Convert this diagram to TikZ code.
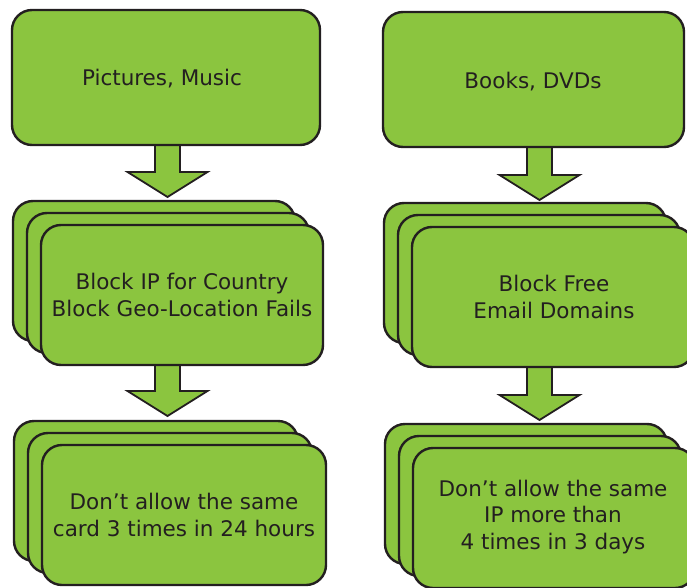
\documentclass[tikz,border=0pt]{standalone}
\usepackage{fontspec}
\setmainfont{DejaVu Sans}
\usetikzlibrary{calc}
\definecolor{boxgreen}{RGB}{139,197,63}
\definecolor{edgedark}{RGB}{35,31,32}
\definecolor{txt}{RGB}{35,31,32}
\tikzset{
  gbox/.style={draw=edgedark, line width=2.4pt, fill=boxgreen, rounded corners=20pt,
    text=txt, align=center, inner sep=0pt, font=\fontsize{21.5}{27.5}\selectfont},
  fatarrow/.style={draw=edgedark, line width=1.8pt, fill=boxgreen, line join=miter},
  btext/.style={text=txt, align=center, inner sep=0pt, font=\fontsize{21.5}{27}\selectfont},
}
\newcommand\downarrowat[3]{% x, ytop, ybottom (picture units)
  \draw[fatarrow] (#1-12.5,#2) -- (#1-12.5,#3-25) -- (#1-40,#3-25) -- (#1,#3)
    -- (#1+40,#3-25) -- (#1+12.5,#3-25) -- (#1+12.5,#2);
}
\begin{document}
\begin{tikzpicture}[x=1pt,y=-1pt]
\useasboundingbox (0,0) rectangle (687,588);
\clip (0,0) rectangle (687,588);
% arrows (drawn first, boxes above)
\downarrowat{167.5}{143}{197}
\downarrowat{167.5}{363}{416}
\downarrowat{539.5}{145}{200}
\downarrowat{539.5}{365}{420}
% left column
\node[gbox, minimum width=308, minimum height=135] (pm) at (166,77.5) {};
\node[btext] (pmt) at (162,79) {Pictures, Music};
\node[gbox, minimum width=282, minimum height=140] (lb1c) at (154,271) {};
\node[gbox, minimum width=282, minimum height=140] (lb1b) at (168,283) {};
\node[gbox, minimum width=282, minimum height=140] (lb1a) at (182,295) {Block IP for Country\\Block Geo-Location Fails};
\node[gbox, minimum width=284, minimum height=140] (lb2c) at (156,491) {};
\node[gbox, minimum width=284, minimum height=140] (lb2b) at (170,503) {};
\node[gbox, minimum width=284, minimum height=140] (lb2a) at (184,515) {Don’t allow the same\\card 3 times in 24 hours};
% right column
\node[gbox, minimum width=301, minimum height=135] (bd) at (533.5,79.5) {};
\node[btext] (bdt) at (533,82) {Books, DVDs};
\node[gbox, minimum width=282, minimum height=140] (rb1c) at (525,273) {};
\node[gbox, minimum width=282, minimum height=140] (rb1b) at (539,285) {};
\node[gbox, minimum width=282, minimum height=140] (rb1a) at (553,297) {};
\node[btext] (rb1t) at (554,297) {Block Free\\Email Domains};
\node[gbox, minimum width=282, minimum height=140] (rb2c) at (526,494) {};
\node[gbox, minimum width=282, minimum height=140] (rb2b) at (540,506) {};
\node[gbox, minimum width=282, minimum height=140] (rb2a) at (554,518) {};
\node[btext, font=\fontsize{21.5}{26.5}\selectfont] (rb2t) at (553,517) {Don’t allow the same\\IP more than\\4 times in 3 days};
\end{tikzpicture}
\end{document}
